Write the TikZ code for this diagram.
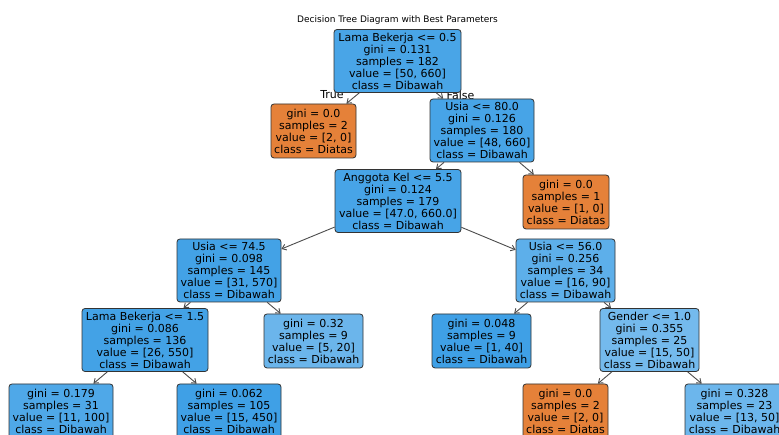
\documentclass[tikz,border=0pt]{standalone}
\usepackage{fontspec}
\setmainfont{DejaVu Sans}
\usetikzlibrary{arrows.meta}
\definecolor{cblue}{RGB}{57,157,229}
\definecolor{corange}{RGB}{229,129,57}
\begin{document}
\begin{tikzpicture}[x=1pt,y=1pt,
  tn/.style={draw=black!80, line width=0.8pt, rounded corners=3pt, align=center,
             font=\fontsize{11}{12}\selectfont, inner sep=2pt},
  leaf/.style={tn, minimum height=54pt},
  split/.style={tn, minimum height=63pt},
  lbl/.style={font=\fontsize{11}{12}\selectfont, inner sep=0pt},
  edge/.style={draw=black!70, line width=0.9pt, -{Straight Barb[length=4pt,width=6pt]}}]
\useasboundingbox (0,0) rectangle (779,435);
\fill[white] (0,0) rectangle (779,435);
\clip (0,0) rectangle (779,435);

\node[font=\fontsize{9}{10}\selectfont] (title) at (397.5,415) {Decision Tree Diagram with Best Parameters};

\node[lbl] (ltrue) at (332,340) {True};
\node[lbl] (lfalse) at (460.5,340) {False};

\node[split, fill=cblue!92!white, minimum width=127pt] (root) at (397.5,374)
  {Lama Bekerja <= 0.5\\gini = 0.131\\samples = 182\\value = [50, 660]\\class = Dibawah};
\node[leaf, fill=corange, minimum width=85pt] (l1) at (313.5,304)
  {gini = 0.0\\samples = 2\\value = [2, 0]\\class = Diatas};
\node[split, fill=cblue!93!white, minimum width=104pt] (u80) at (482,304.5)
  {Usia <= 80.0\\gini = 0.126\\samples = 180\\value = [48, 660]\\class = Dibawah};
\node[leaf, fill=corange, minimum width=86pt] (lr) at (566,233)
  {gini = 0.0\\samples = 1\\value = [1, 0]\\class = Diatas};
\node[split, fill=cblue!93!white, minimum width=126pt] (ak) at (398,234)
  {Anggota Kel <= 5.5\\gini = 0.124\\samples = 179\\value = [47.0, 660.0]\\class = Dibawah};
\node[split, fill=cblue!95!white, minimum width=104pt] (u74) at (229,164.5)
  {Usia <= 74.5\\gini = 0.098\\samples = 145\\value = [31, 570]\\class = Dibawah};
\node[split, fill=cblue!82!white, minimum width=99pt] (u56) at (565.5,164.5)
  {Usia <= 56.0\\gini = 0.256\\samples = 34\\value = [16, 90]\\class = Dibawah};
\node[split, fill=cblue!95!white, minimum width=126pt] (lb) at (145,95)
  {Lama Bekerja <= 1.5\\gini = 0.086\\samples = 136\\value = [26, 550]\\class = Dibawah};
\node[leaf, fill=cblue!75!white, minimum width=99pt] (n032) at (313.5,94)
  {gini = 0.32\\samples = 9\\value = [5, 20]\\class = Dibawah};
\node[leaf, fill=cblue!97!white, minimum width=99pt] (n048) at (481.5,94)
  {gini = 0.048\\samples = 9\\value = [1, 40]\\class = Dibawah};
\node[split, fill=cblue!70!white, minimum width=99pt] (gd) at (649.5,95)
  {Gender <= 1.0\\gini = 0.355\\samples = 25\\value = [15, 50]\\class = Dibawah};
\node[leaf, fill=cblue!89!white, minimum width=104pt] (n179) at (61,24)
  {gini = 0.179\\samples = 31\\value = [11, 100]\\class = Dibawah};
\node[leaf, fill=cblue!97!white, minimum width=104pt] (n062) at (229,24)
  {gini = 0.062\\samples = 105\\value = [15, 450]\\class = Dibawah};
\node[leaf, fill=corange, minimum width=85pt] (n00) at (565.5,24)
  {gini = 0.0\\samples = 2\\value = [2, 0]\\class = Diatas};
\node[leaf, fill=cblue!74!white, minimum width=99pt] (n328) at (734.5,24)
  {gini = 0.328\\samples = 23\\value = [13, 50]\\class = Dibawah};

\draw[edge] (root) -- (l1);
\draw[edge] (root) -- (u80);
\draw[edge] (u80) -- (ak);
\draw[edge] (u80) -- (lr);
\draw[edge] (ak) -- (u74);
\draw[edge] (ak) -- (u56);
\draw[edge] (u74) -- (lb);
\draw[edge] (u74) -- (n032);
\draw[edge] (u56) -- (n048);
\draw[edge] (u56) -- (gd);
\draw[edge] (lb) -- (n179);
\draw[edge] (lb) -- (n062);
\draw[edge] (gd) -- (n00);
\draw[edge] (gd) -- (n328);
\end{tikzpicture}
\end{document}
